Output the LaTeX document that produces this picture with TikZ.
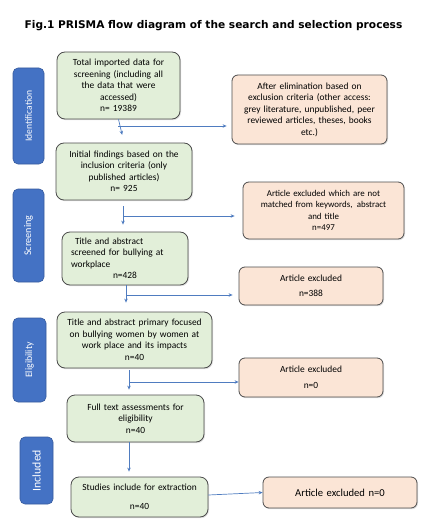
\documentclass[tikz,border=0pt]{standalone}
\usepackage{fontspec}
\setmainfont{Carlito}
\newfontfamily\titlefont{DejaVu Sans}
\usetikzlibrary{arrows.meta,shadows}
\definecolor{gfill}{HTML}{E2EFD9}
\definecolor{ofill}{HTML}{FBE5D6}
\definecolor{lblue}{HTML}{4472C4}
\definecolor{ablue}{HTML}{4F7CC0}
\begin{document}
\begin{tikzpicture}[x=1pt,y=-1pt,
  box/.style={draw=black!70, line width=0.8pt, rounded corners=8pt, align=center,
    inner sep=1pt, font=\fontsize{9.4}{11.5}\selectfont,
    drop shadow={opacity=0.25, shadow xshift=1pt, shadow yshift=-1.2pt}},
  gbox/.style={box, fill=gfill},
  obox/.style={box, fill=ofill, rounded corners=6pt},
  phase/.style={draw=lblue!80!black, line width=0.6pt, fill=lblue, rounded corners=5pt},
  ptext/.style={rotate=90, text=white},
  line/.style={draw=ablue, line width=0.7pt},
  arr/.style={line, -{Stealth[length=4pt,width=3.5pt]}}
]
\useasboundingbox (0,0) rectangle (436,524);
\node[font=\titlefont\bfseries\fontsize{10.6}{12}\selectfont, anchor=center] (title) at (213.5,26) {Fig.1 PRISMA flow diagram of the search and selection process};

% phase labels
\node[phase, minimum width=31, minimum height=96] (L1) at (28.5,116) {};
\node[ptext, font=\fontsize{9.6}{11}\selectfont] at (L1.center) {Identification};
\node[phase, minimum width=31, minimum height=93] (L2) at (28.5,235.5) {};
\node[ptext, font=\fontsize{10.2}{11}\selectfont] at (L2.center) {Screening};
\node[phase, minimum width=33, minimum height=84] (L3) at (29.5,360) {};
\node[ptext, font=\fontsize{9.8}{11}\selectfont] at (L3.center) {Eligibility};
\node[phase, minimum width=33, minimum height=67] (L4) at (36.5,470.5) {};
\node[ptext, font=\fontsize{11.8}{13}\selectfont] at (L4.center) {Included};

% green boxes
\node[gbox, minimum width=123, minimum height=67, text width=121] (b1) at (118.5,85.5)
  {Total imported data for\\screening (including all\\the data that were\\accessed)\\n= 19389};
\node[gbox, minimum width=136, minimum height=57, text width=134] (b2) at (124,171.5)
  {Initial findings based on the\\inclusion criteria (only\\published articles)\\n= 925};
\node[gbox, minimum width=126, minimum height=53, text width=124, align=left] (b3) at (125,258.5)
  {\hspace*{12pt}Title and abstract\\\hspace*{8pt}screened for bullying at\\\hspace*{8pt}workplace\\\hspace*{50pt}n=428};
\node[gbox, minimum width=155, minimum height=56, text width=153] (b4) at (134.5,340)
  {Title and abstract primary focused\\on bullying women by women at\\work place and its impacts\\n=40};
\node[gbox, minimum width=137, minimum height=47, text width=135] (b5) at (135.5,418.5)
  {Full text assessments for\\eligibility\\n=40};
\node[gbox, minimum width=137, minimum height=40, text width=135] (b6) at (139.5,497)
  {Studies include for extraction\\[7pt]n=40};

% orange boxes
\node[obox, minimum width=155, minimum height=69, text width=153] (o1) at (309.5,109.5)
  {After elimination based on\\exclusion criteria (other access:\\grey literature, unpublished, peer\\reviewed articles, theses, books\\etc.)};
\node[obox, minimum width=161, minimum height=57, text width=159, font=\fontsize{8.9}{11.5}\selectfont] (o2) at (323.5,210.5)
  {Article excluded which are not\\matched from keywords,\, abstract\\and title\\n=497};
\node[obox, minimum width=144, minimum height=38, text width=142] (o3) at (311,286)
  {Article excluded\\[4pt]n=388};
\node[obox, minimum width=144, minimum height=39, text width=142] (o4) at (311,377.5)
  {Article excluded\\[4pt]n=0};
\node[obox, minimum width=154, minimum height=31, text width=152, font=\fontsize{10.6}{12}\selectfont] (o6) at (340,492.5)
  {Article excluded n=0};

% connectors
\coordinate (j1) at (118,126);
\draw[arr, shorten >=8pt] (b1.south) -- (b2.north);
\draw[arr, shorten >=5pt] (j1) -- (j1 -| o1.west);

\coordinate (j2) at (123,216);
\draw[line, shorten <=6pt] (b2.south -| j2) -- (j2);
\draw[arr, shorten >=8pt] (j2) -- (j2 -| o2.west);
\draw[arr, shorten >=7pt] (j2) -- (j2 |- b3.north);

\coordinate (j3) at (126,295);
\draw[line] (b3.south -| j3) -- (j3);
\draw[arr, shorten >=6pt] (j3) -- (j3 -| o3.west);
\draw[arr, shorten >=9pt] (j3) -- (j3 |- b4.north);

\coordinate (j4) at (129,382);
\draw[line, shorten <=2pt] (b4.south -| j4) -- (j4);
\draw[arr] (j4) -- (j4 -| o4.west);
\draw[arr, shorten >=5pt] (j4) -- (j4 |- b5.north);

\coordinate (j5) at (129,447);
\draw[arr, shorten >=5pt] (j5) -- (j5 |- b6.north);
\draw[line] (b5.south -| j5) -- (j5);

\draw[arr] ([yshift=2pt]b6.east) -- (o6.west);
\end{tikzpicture}
\end{document}
